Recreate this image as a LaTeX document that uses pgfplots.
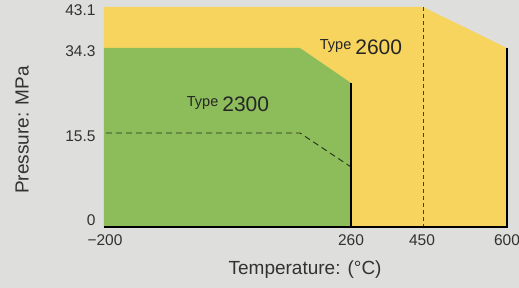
\documentclass[border=0pt]{standalone}
\usepackage{fontspec}
\setmainfont{Liberation Sans}
\usepackage{pgfplots}
\pgfplotsset{compat=1.18}
\definecolor{bg}{RGB}{222,222,220}
\definecolor{yel}{RGB}{247,212,94}
\definecolor{grn}{RGB}{141,189,91}
\definecolor{txt}{RGB}{50,50,50}
\begin{document}
\begin{tikzpicture}[x=1pt,y=1pt]
\fill[bg] (-104,-61) rectangle (415,227);
\useasboundingbox (-104,-61) rectangle (415,227);
\begin{axis}[
  at={(0,0)}, anchor=south west,
  scale only axis, width=403pt, height=220pt,
  xmin=0, xmax=403, ymin=0, ymax=220,
  clip=false,
  axis line style={draw=none},
  major tick length=0pt,
  xtick={1,247,318,403},
  xticklabels={−200,260,450,600},
  ytick={94,179,220},
  yticklabels={15.5,34.3,43.1},
  extra y ticks={0},
  extra y tick labels={0},
  extra y tick style={yticklabel style={yshift=10pt}},
  ticklabel style={font=\fontsize{15.5}{17}\selectfont, text=txt},
  xticklabel style={yshift=-4pt},
  yticklabel style={xshift=-5pt, yshift=-3pt},
  xlabel={Temperature: (°C)},
  ylabel={Pressure: MPa},
  label style={font=\fontsize{19}{22}\selectfont, text=txt},
  xlabel style={at={(axis description cs:0.499,-0.195)}, anchor=center},
  ylabel style={at={(axis description cs:-0.203,0.441)}, anchor=center, rotate=0},
]
% Type 2600 envelope
\addplot[fill=yel, draw=none] coordinates {(0,0) (0,220) (319,220) (403,179) (403,0)} -- cycle;
% Type 2300 envelope
\addplot[fill=grn, draw=none] coordinates {(0,0) (0,179) (196,179) (247,144) (247,0)} -- cycle;
% 15.5 MPa dashed limit
\addplot[black!75!grn, dash pattern=on 6pt off 4pt, line width=0.9pt] coordinates {(2,94) (196,94) (247,60)};
% 450 C dashed line
\addplot[black!70!yel, dash pattern=on 4pt off 3pt, line width=0.9pt] coordinates {(319,220) (319,0)};
% solid edges
\addplot[black, line width=2.2pt] coordinates {(247,144) (247,0)};
\addplot[black, line width=2.2pt] coordinates {(403,179) (403,0)};
\addplot[black, line width=2.4pt] coordinates {(0,0) (404,0)};
\node[anchor=base, text=black!85] at (axis cs:124,115) {\fontsize{14.5}{14}\selectfont\raisebox{5pt}{Type} \fontsize{21}{21}\selectfont 2300};
\node[anchor=base, text=black!85] at (axis cs:257,172) {\fontsize{14.5}{14}\selectfont\raisebox{5pt}{Type} \fontsize{21}{21}\selectfont 2600};
\end{axis}
\end{tikzpicture}
\end{document}
